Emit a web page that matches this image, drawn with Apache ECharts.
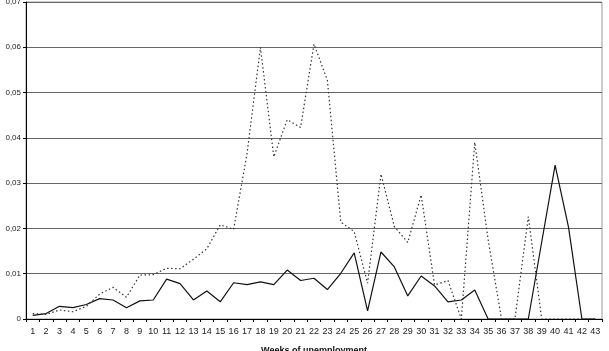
<!DOCTYPE html>
<html>
<head>
<meta charset="utf-8">
<script src="https://cdn.jsdelivr.net/npm/echarts@6/dist/echarts.min.js"></script>
<style>
  html, body { margin: 0; padding: 0; background: #fff; }
  #chart { width: 609px; height: 351px; }
</style>
</head>
<body>
<div id="chart"></div>
<script>
// weeks 1..43
const weeks = [];
for (let i = 1; i <= 43; i++) weeks.push(String(i));

const solidLine = [
  0.0008, 0.0012, 0.0028, 0.0025, 0.0032, 0.0045, 0.0042, 0.0025, 0.0040, 0.0042,
  0.0088, 0.0078, 0.0042, 0.0062, 0.0038, 0.0080, 0.0076, 0.0082, 0.0076, 0.0108,
  0.0085, 0.0090, 0.0065, 0.0101, 0.0146, 0.0018, 0.0148, 0.0115, 0.0051, 0.0095,
  0.0073, 0.0038, 0.0042, 0.0064, 0, 0, 0, 0, 0.0170, 0.0340,
  0.0203, 0, 0
];

const dottedLine = [
  0.0012, 0.0010, 0.0020, 0.0016, 0.0028, 0.0055, 0.0070, 0.0048, 0.0097, 0.0098,
  0.0112, 0.0111, 0.0132, 0.0155, 0.0208, 0.0198, 0.0365, 0.0600, 0.0358, 0.0440,
  0.0423, 0.0607, 0.0527, 0.0214, 0.0193, 0.0079, 0.0320, 0.0204, 0.0169, 0.0274,
  0.0075, 0.0085, 0, 0.0390, 0.0175, 0, 0, 0.0226, 0, 0,
  0, 0, 0
];

const chart = echarts.init(document.getElementById("chart"));
chart.setOption({
  animation: false,
  textStyle: { fontFamily: "Liberation Sans, Arial, sans-serif" },
  grid: {
    left: 26,
    right: 7,
    top: 2,
    bottom: 32,
    containLabel: false,
    outerBoundsMode: "none",
    show: true,
    borderColor: "#999",
    borderWidth: 1,
  },
  xAxis: {
    type: "category",
    data: weeks,
    name: "Weeks of unemployment",
    nameLocation: "middle",
    nameGap: 27,
    nameTextStyle: { fontSize: 9, fontWeight: "bold", color: "#111" },
    axisLine: { lineStyle: { color: "#000", width: 1 } },
    axisTick: { show: true, length: 3, lineStyle: { color: "#000" } },
    axisLabel: { fontSize: 9, color: "#222", margin: 8, interval: 0 },
  },
  yAxis: {
    type: "value",
    min: 0,
    max: 0.07,
    interval: 0.01,
    axisLine: { show: true, lineStyle: { color: "#000", width: 1 } },
    axisTick: { show: true, length: 3, lineStyle: { color: "#000" } },
    splitLine: { lineStyle: { color: "#666", width: 1 } },
    axisLabel: {
      fontSize: 8,
      color: "#222",
      margin: 5,
      formatter: (v) => (v === 0 ? "0" : v.toFixed(2).replace(".", ",")),
    },
  },
  series: [
    {
      type: "line",
      data: solidLine,
      symbol: "none",
      lineStyle: { color: "#111", width: 1.2 },
    },
    {
      type: "line",
      data: dottedLine,
      symbol: "none",
      lineStyle: { color: "#333", width: 1.2, type: [1.5, 2.5] },
    },
  ],
});
</script>
</body>
</html>
